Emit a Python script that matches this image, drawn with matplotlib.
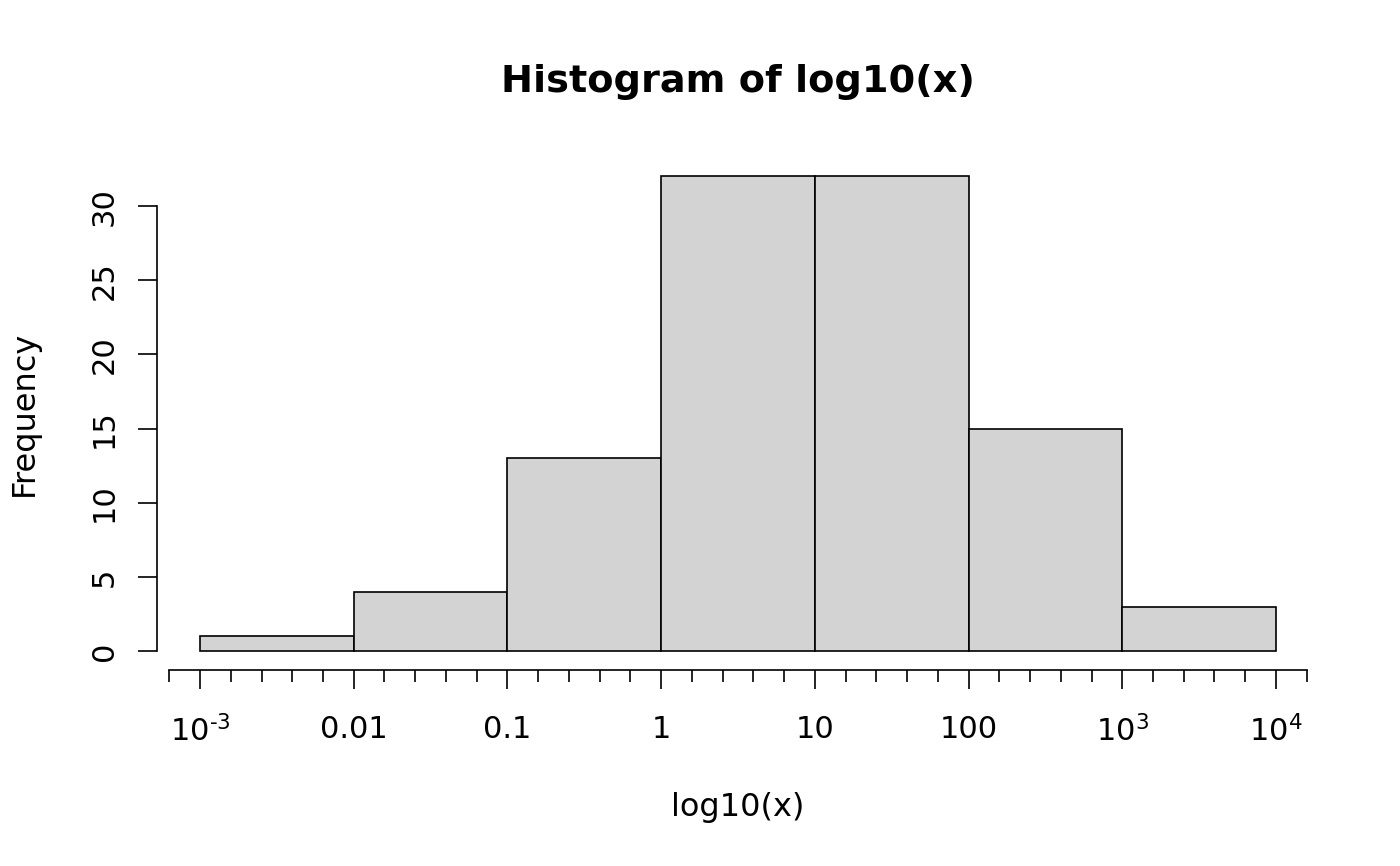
import numpy as np
import matplotlib.pyplot as plt
from matplotlib.ticker import FixedLocator

# histogram of log10(x): bin edges and counts
edges = [-3, -2, -1, 0, 1, 2, 3, 4]
counts = [1, 4, 13, 32, 32, 15, 3]
xticklabels = [r"$10^{\text{-}3}$", "0.01", "0.1", "1", "10", "100", "$10^{3}$", "$10^{4}$"]
yticks = [0, 5, 10, 15, 20, 25, 30]

plt.rcParams['font.family'] = 'DejaVu Sans'
plt.rcParams['mathtext.fontset'] = 'dejavusans'
plt.rcParams['mathtext.default'] = 'regular'

fig = plt.figure(figsize=(14, 8.66), dpi=100)
ax = fig.add_axes([157/1400, 1 - 670/866, (1319 - 157)/1400, (670 - 157.5)/866])

widths = np.diff(edges)
ax.bar(edges[:-1], counts, width=widths, align='edge',
       color='#d3d3d3', edgecolor='black', linewidth=1.2)

ax.set_xlim(-3.28, 4.28)
ax.set_ylim(-1.28, 33.28)

for s in ['top', 'right']:
    ax.spines[s].set_visible(False)
ax.spines['left'].set_bounds(0, 30)
ax.spines['bottom'].set_bounds(-3.2, 4.2)
ax.spines['left'].set_linewidth(1.2)
ax.spines['bottom'].set_linewidth(1.2)

ax.set_xticks(edges)
ax.set_xticklabels(xticklabels)
minors = [m / 10 for m in range(-32, 43, 2) if m % 10 != 0]
ax.xaxis.set_minor_locator(FixedLocator(minors))
ax.set_yticks(yticks)
ax.set_yticklabels([str(v) for v in yticks], rotation=90, va='center')

ax.tick_params(axis='both', which='major', length=13.5, width=1.2, labelsize=22)
ax.tick_params(axis='x', which='major', pad=19)
ax.tick_params(axis='y', which='major', pad=14)
ax.tick_params(axis='x', which='minor', length=8.5, width=1.2)

ax.set_xlabel("log10(x)", fontsize=23, labelpad=32)
ax.set_ylabel("Frequency", fontsize=23, labelpad=36)
ax.set_title("Histogram of log10(x)", fontsize=27.5, fontweight='bold',
             y=(866 - 90) / (670 - 157.5) - (866 - 670) / (670 - 157.5), va='center')

fig.savefig("out.png", dpi=100)
